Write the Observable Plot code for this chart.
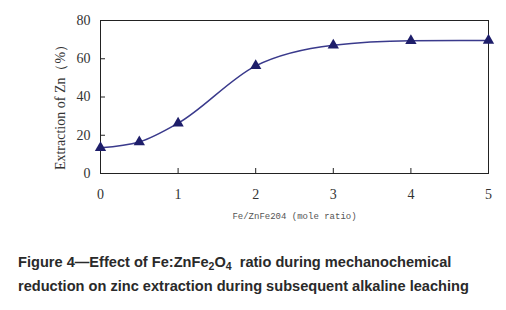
<!DOCTYPE html>
<html>
<head>
<meta charset="utf-8">
<script src="https://cdn.jsdelivr.net/npm/d3@7"></script>
<script src="https://cdn.jsdelivr.net/npm/@observablehq/plot@0.6"></script>
<style>
  html, body { margin: 0; padding: 0; background: #fff; }
  #caption {
    font-family: "Liberation Sans", Arial, sans-serif;
    font-weight: bold;
    font-size: 14.6px;
    line-height: 24px;
    color: #2a2a2a;
    margin: 0 0 0 18px;
    padding-top: 14px;
  }
  #caption sub { font-size: 10.5px; vertical-align: -3px; line-height: 0; }
</style>
</head>
<body>
<div id="chart"></div>
<div id="caption">Figure 4—Effect of Fe:ZnFe<sub>2</sub>O<sub>4</sub>&nbsp; ratio during mechanochemical<br>reduction on zinc extraction during subsequent alkaline leaching</div>
<script>
const ratio = [0, 0.5, 1, 2, 3, 4, 5];
const extraction = [13.5, 16.5, 26.3, 56.3, 67.1, 69.4, 69.6];
const xTicks = [0, 1, 2, 3, 4, 5];
const yTicks = [0, 20, 40, 60, 80];
const xLabel = "Fe/ZnFe204 (mole ratio)";
const yLabel = "Extraction of Zn（%）";

const data = ratio.map((r, i) => ({ratio: r, extraction: extraction[i]}));

const chart = Plot.plot({
  width: 506,
  height: 236,
  marginLeft: 100,
  marginRight: 18,
  marginTop: 20,
  marginBottom: 63,
  style: {background: "#fff", color: "#333"},
  x: {domain: [0, 5], ticks: xTicks},
  y: {domain: [0, 80], ticks: yTicks},
  marks: [
    Plot.frame({stroke: "#222", strokeWidth: 1}),
    Plot.axisX({ticks: xTicks, tickFormat: d3.format("d"), tickSize: -5, tickPadding: 21, label: null,
      fontFamily: "Liberation Serif, Times New Roman, serif", fontSize: 14, stroke: "#222", color: "#333"}),
    Plot.axisY({ticks: yTicks, tickFormat: d3.format("d"), tickSize: -5, tickPadding: 15, label: null,
      fontFamily: "Liberation Serif, Times New Roman, serif", fontSize: 14, stroke: "#222", color: "#333"}),
    Plot.text([xLabel], {frameAnchor: "bottom", dy: 45, text: d => d,
      fontFamily: "Liberation Mono, Courier New, monospace", fontSize: 9, fill: "#555"}),
    Plot.text([yLabel], {frameAnchor: "left", textAnchor: "middle", dx: -40, dy: 7, rotate: -90, text: d => d,
      fontFamily: "Liberation Serif, Times New Roman, serif", fontSize: 14, fill: "#333"}),
    Plot.line(data, {x: "ratio", y: "extraction", curve: "monotone-x", stroke: "#3a3a8c", strokeWidth: 1.5}),
    Plot.dot(data, {x: "ratio", y: "extraction", symbol: "triangle", r: 4.2, fill: "#1e1e6a", stroke: "none"})
  ]
});
document.getElementById("chart").appendChild(chart);
</script>
</body>
</html>
